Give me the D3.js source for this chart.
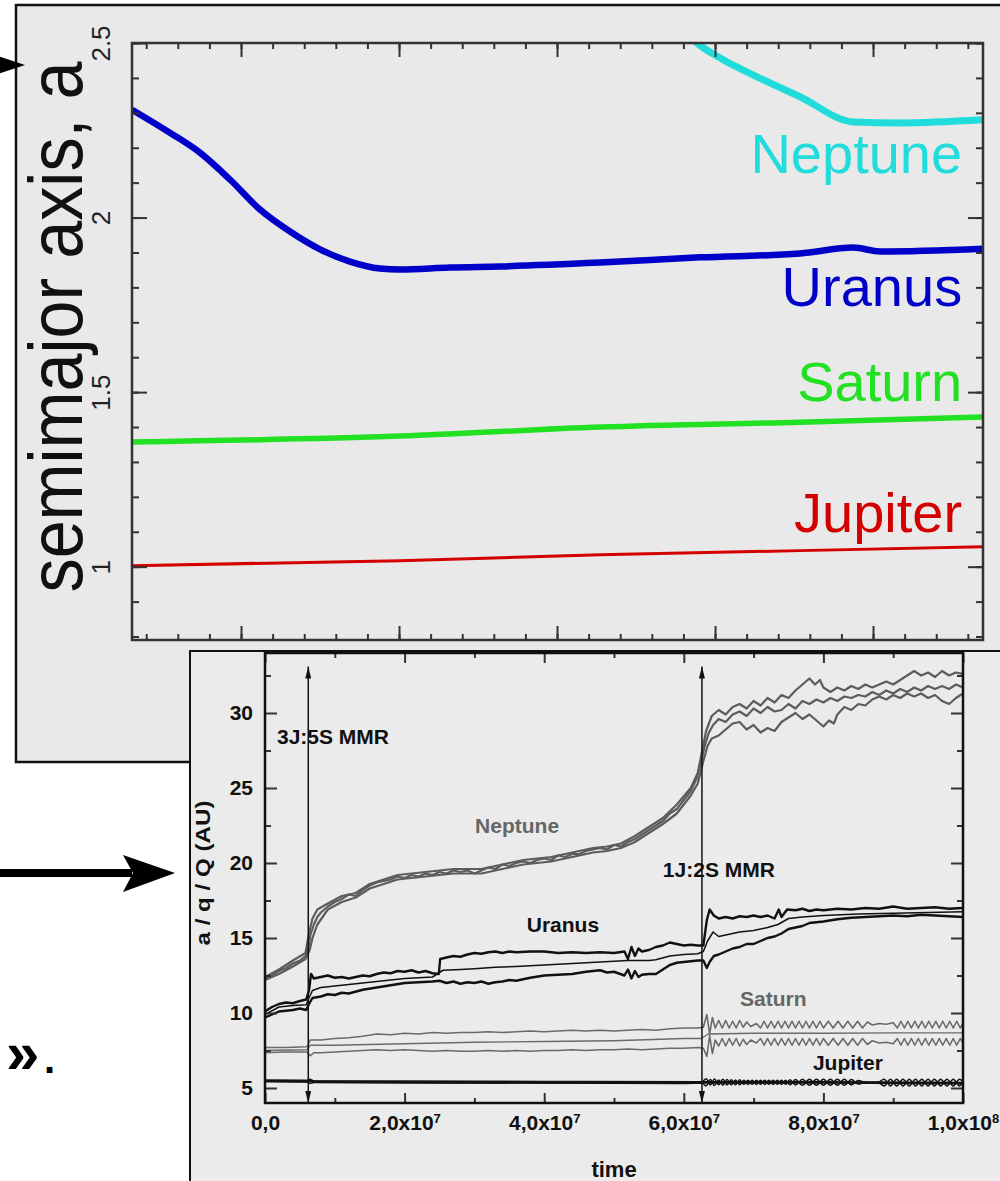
<!DOCTYPE html>
<html lang="en">
<head>
<meta charset="UTF-8">
<title>Semimajor axis evolution of the giant planets</title>
<script src="https://d3js.org/d3.v7.min.js"></script>
<style>
  body { margin: 0; background: #fff; }
  svg { display: block; }
  text { font-family: "Liberation Sans", Arial, Helvetica, sans-serif; }
</style>
</head>
<body>
<script>
// ---------------- top panel data (x: plot units, y: semimajor axis) ----------------
const topXDomain = [-3.45, 23.48];
const topYDomain = [0.79, 2.5];
const topXMinor = d3.range(-3, 24);
const topXMajor = [0, 5, 10, 15, 20];
const topYMinor = d3.range(8, 26).map(d => d / 10);
const topYMajor = [1, 1.5, 2, 2.5];
const topYLabels = ["1", "1.5", "2", "2.5"];

const topJupiter = [[-3.45,1.003],[5.03,1.017],[11.36,1.034],[17.69,1.046],[23.48,1.057]];
const topSaturn  = [[-3.45,1.357],[5.03,1.374],[11.36,1.400],[17.69,1.414],[23.48,1.429]];
const topUranus  = [[-3.45,2.309],[-2.25,2.243],[-1.3,2.186],[-0.35,2.109],[0.6,2.023],[1.55,1.960],
                    [2.5,1.909],[3.45,1.874],[4.4,1.854],[5.03,1.851],[6.61,1.857],[8.2,1.860],
                    [11.36,1.871],[14.53,1.886],[17.69,1.897],[19.37,1.914],[20.22,1.903],[23.48,1.911]];
const topNeptune = [[14.21,2.518],[14.43,2.500],[15.2,2.455],[16.2,2.409],[17.69,2.346],
                    [19.37,2.274],[20.85,2.271],[23.48,2.280]];

const topNames  = ["Jupiter", "Saturn", "Uranus", "Neptune"];
const topColors = ["#d40000", "#22e022", "#0000c8", "#22dcdc"];
const topLabelY = [1.10, 1.474, 1.746, 2.129];

// ---------------- bottom panel data (t in Myr, a / q / Q in AU) ----------------
const botYMajor = [5, 10, 15, 20, 25, 30];
const botYMinor = [7.5, 12.5, 17.5, 22.5, 27.5, 32.5];
const botXMajor = [0, 20, 40, 60, 80, 100];
const botXMinor = [10, 30, 50, 70, 90];
const botXMant  = ["0,0", "2,0x10", "4,0x10", "6,0x10", "8,0x10", "1,0x10"];
const botXExp   = ["", "7", "7", "7", "7", "8"];

const neptuneA = [[0,12.3],[1,12.5],[2,12.8],[3,13.0],[4,13.3],[5,13.5],[5.8,13.8],[6.2,14.3],[6.5,15.2],[7,15.9],
  [7.5,16.4],[8,16.7],[9,17.1],[10,17.4],[11,17.6],[12,17.9],[13,17.8],[14,18.2],[15,18.5],[16,18.7],[17,18.8],
  [18,18.9],[19,19.1],[20,19.0],[21,19.2],[22,19.1],[23,19.3],[24,19.2],[25,19.4],[26,19.3],[27,19.5],[28,19.4],
  [29,19.5],[30,19.3],[31,19.5],[32,19.7],[33,19.6],[34,19.9],[35,19.8],[36,20.0],[37,20.1],[38,20.0],[39,20.2],
  [40,20.3],[41,20.2],[42,20.5],[43,20.4],[44,20.6],[45,20.6],[46,20.8],[47,20.9],[48,21.0],[49,20.9],[50,21.2],
  [51,21.1],[52,21.4],[53,21.6],[54,21.9],[55,22.2],[56,22.5],[57,22.8],[58,23.3],[59,23.6],[60,24.2],[61,24.8],
  [61.8,25.6],[62.4,26.6],[63,27.8],[63.6,28.7],[64.2,29.2],[65,29.6],[66,29.4],[67,29.9],[68,30.1],[69,29.8],
  [70,30.3],[71,30.0],[72,30.4],[73,30.1],[74,30.2],[75,30.6],[76,30.3],[77,30.8],[78,30.6],[79,30.9],[80,30.7],
  [81,31.0],[82,30.8],[83,31.1],[84,31.0],[85,31.2],[86,31.1],[87,31.4],[88,31.2],[89,31.5],[90,31.3],[91,31.6],
  [92,31.4],[93,31.7],[94,31.5],[95,31.8],[96,31.6],[97,31.8],[98,31.6],[99,31.9],[100,31.7]];
const neptuneQ = [[0,12.4],[2,12.9],[4,13.5],[5.8,14.0],[6.3,15.3],[6.8,16.3],[7.5,16.9],[9,17.3],[11,17.8],
  [13,18.0],[15,18.6],[17,18.9],[19,19.2],[21,19.3],[23,19.4],[25,19.5],[27,19.6],[29,19.6],[31,19.6],[33,19.8],
  [35,20.0],[37,20.2],[39,20.3],[41,20.4],[43,20.6],[45,20.8],[47,21.0],[49,21.1],[51,21.3],[53,21.8],[55,22.4],
  [57,23.0],[59,23.9],[61,25.0],[62,26.0],[62.6,27.4],[63.2,28.8],[64,29.8],[65,30.2],[66,29.9],[67,30.4],
  [68,30.6],[69,30.3],[70,30.8],[71,30.5],[72,31.0],[73,30.7],[74,31.2],[75,31.0],[76,31.5],[77,31.9],[78,32.3],
  [78.8,31.9],[79.5,32.2],[80,31.7],[81,31.4],[82,31.7],[83,31.5],[84,31.8],[85,31.6],[86,31.9],[87,31.7],
  [88,31.9],[89,32.1],[90,31.9],[91,32.2],[92,32.5],[93,32.8],[94,32.5],[95,32.7],[96,32.4],[97,32.8],[98,32.5],
  [99,32.7],[100,32.6]];
const neptuneq = [[0,12.2],[2,12.6],[4,13.1],[5.8,13.6],[6.4,14.2],[6.8,15.0],[7.5,15.9],[9,16.9],[11,17.4],
  [13,17.7],[15,18.3],[17,18.6],[19,18.9],[21,19.0],[23,19.1],[25,19.2],[27,19.3],[29,19.3],[31,19.3],[33,19.5],
  [35,19.7],[37,19.9],[39,20.0],[41,20.1],[43,20.3],[45,20.5],[47,20.7],[49,20.8],[51,21.0],[53,21.4],[55,22.0],
  [57,22.6],[59,23.3],[61,24.5],[62,25.3],[62.8,26.8],[63.4,27.8],[64,28.3],[65,28.5],[66,28.9],[67,29.3],
  [68,29.4],[69,28.9],[70,29.2],[71,28.7],[72,29.0],[73,28.8],[74,29.4],[75,29.7],[76,30.0],[77,29.6],[78,29.9],
  [79,29.5],[80,29.1],[80.8,29.5],[81.5,29.3],[82,29.9],[83,30.4],[84,30.2],[85,30.6],[86,30.5],[87,30.9],
  [88,31.1],[89,30.9],[90,31.2],[91,31.0],[92,31.3],[93,31.1],[94,31.3],[95,31.0],[96,31.2],[97,30.8],[98,30.6],
  [99,31.0],[100,31.3]];

const uranusQ = [[0,10.1],[1,10.4],[2,10.6],[3,10.7],[4,10.65],[5,10.8],[5.9,10.9],[6.3,11.5],[6.6,12.6],[7,12.3],
  [8,12.4],[9,12.5],[10,12.35],[11,12.4],[12,12.3],[13,12.4],[14,12.5],[15,12.45],[16,12.6],[17,12.7],[18,12.65],
  [19,12.8],[20,12.75],[21,12.85],[22,12.7],[23,12.8],[24,12.65],[24.9,12.6],[25.1,13.6],[26,13.7],[27,13.8],
  [28,13.75],[29,13.9],[30,14.0],[31,13.95],[32,14.05],[33,14.1],[34,14.0],[35,14.1],[36,14.05],[38,14.1],
  [40,14.1],[42,14.0],[44,14.05],[46,14.0],[48,14.05],[50,14.0],[51.5,14.1],[52,13.6],[52.5,14.4],[53,13.8],
  [53.5,14.3],[54,14.1],[55,14.2],[56,14.4],[57,14.5],[58,14.7],[59,14.6],[60,14.5],[61,14.55],[62,14.5],
  [62.8,14.5],[63.3,16.2],[63.7,16.9],[64.3,16.5],[65,16.3],[66,16.4],[67,16.3],[68,16.45],[69,16.4],[70,16.5],
  [71,16.4],[72,16.5],[73,16.3],[73.6,16.9],[74,16.4],[74.8,16.9],[76,16.85],[77,16.95],[78,16.8],[79,16.9],
  [80,16.85],[82,16.95],[84,16.9],[86,17.0],[88,16.95],[90,17.1],[92,16.95],[94,17.0],[96,17.05],[98,16.95],
  [100,17.0]];
const uranusA = [[0,9.9],[2,10.4],[4,10.5],[5.9,10.55],[6.3,11.0],[6.8,11.5],[8,11.7],[10,11.8],[12,11.9],
  [14,12.0],[16,12.1],[18,12.2],[20,12.3],[22,12.35],[24,12.4],[25.5,12.85],[28,12.9],[30,12.95],[33,13.05],
  [36,13.1],[40,13.2],[44,13.3],[48,13.4],[52,13.5],[55,13.5],[56,13.55],[58,13.8],[60,13.9],[62,13.95],
  [62.8,14.1],[63.4,14.8],[64.2,15.4],[65,15.1],[66,15.2],[68,15.4],[70,15.5],[72,15.7],[73.5,15.9],[75,16.3],
  [77,16.4],[80,16.5],[85,16.6],[90,16.65],[95,16.7],[100,16.75]];
const uranusq = [[0,9.7],[1,9.9],[2,10.1],[3,10.15],[4,10.2],[5,10.3],[5.9,10.2],[6.3,10.6],[6.8,11.0],[8,11.1],
  [9,11.25],[10,11.2],[11,11.35],[12,11.3],[14,11.55],[16,11.7],[18,11.85],[20,12.0],[22,12.05],[24,12.1],
  [25,12.15],[26,12.0],[27,12.1],[28,11.95],[29,12.05],[30,12.0],[31,12.1],[32,11.95],[33,12.05],[34,12.1],
  [35,12.2],[36,12.15],[38,12.35],[40,12.5],[42,12.55],[44,12.6],[46,12.75],[48,12.85],[49,12.7],[50,12.75],
  [51.5,12.5],[52,12.9],[52.5,12.3],[53,12.8],[53.5,12.4],[54,12.55],[55,12.6],[56,12.6],[57,12.9],[58,13.2],
  [59,13.35],[60,13.4],[61,13.45],[62,13.5],[62.8,13.5],[63.3,13.0],[63.7,13.4],[64.3,13.8],[65,13.9],[66,14.1],
  [67,14.3],[68,14.4],[69,14.6],[70,14.6],[71,14.8],[72,15.0],[73,15.1],[74,15.3],[75,15.6],[76,15.7],[77,15.8],
  [78,16.0],[80,16.1],[82,16.25],[84,16.35],[86,16.4],[88,16.45],[90,16.5],[92,16.45],[94,16.55],[96,16.5],
  [98,16.45],[100,16.4]];

const saturnA = [[0,7.5],[6,7.55],[6.5,7.85],[10,7.85],[20,7.95],[30,8.05],[40,8.1],[50,8.15],[60,8.3],
  [62.5,8.3],[63.5,8.6],[70,8.65],[80,8.65],[90,8.67],[100,8.67]];
const saturnQ = [[0,7.7],[3,7.7],[6,7.75],[6.5,8.2],[8,8.2],[10,8.3],[12,8.35],[14,8.45],[16,8.6],[18,8.55],
  [20,8.65],[22,8.6],[24,8.7],[26,8.65],[28,8.7],[30,8.7],[32,8.75],[34,8.7],[36,8.75],[38,8.8],[40,8.75],
  [42,8.8],[44,8.85],[46,8.8],[48,8.85],[50,8.8],[52,8.85],[54,8.9],[56,8.85],[58,8.95],[60,9.0],[62,9.0],
  [62.8,9.05],[63.3,9.9],[63.7,8.6],[64.1,9.7],[64.5,9.0],[65,9.5],[65.5,9.0],[66,9.5],[66.5,9.0],[67,9.45],
  [67.5,9.0],[68,9.5],[68.5,9.05],[69,9.4],[69.6,9.1],[70.4,9.3],[71,9.0],[71.5,9.45],[72,9.0],[72.5,9.45],
  [73,9.0],[73.5,9.45],[74,9.0],[74.5,9.45],[75,9.0],[75.5,9.45],[76,9.0],[76.5,9.45],[77,9.0],[77.5,9.45],
  [78,9.0],[78.5,9.45],[79,9.0],[79.5,9.45],[80,9.0],[80.7,9.45],[81.4,9.0],[82.1,9.45],[82.8,9.0],[83.5,9.45],
  [84.2,9.0],[84.9,9.45],[85.6,9.0],[86.3,9.4],[87,9.2],[88,9.3],[89,9.25],[90,9.35],[90.6,9.0],[91.1,9.45],
  [91.6,9.0],[92.1,9.45],[92.6,9.0],[93.1,9.45],[93.6,9.0],[94.1,9.45],[94.6,9.0],[95.1,9.45],[95.6,9.0],
  [96.1,9.45],[96.6,9.0],[97.1,9.45],[97.6,9.0],[98.1,9.45],[98.6,9.0],[99.1,9.45],[99.6,9.0],[100,9.3]];
const saturnq = [[0,7.35],[3,7.4],[6,7.4],[6.5,7.15],[7,7.35],[8,7.35],[10,7.4],[12,7.45],[14,7.5],[16,7.55],
  [18,7.5],[20,7.55],[22,7.5],[24,7.45],[26,7.5],[28,7.45],[30,7.45],[32,7.5],[34,7.45],[36,7.5],[38,7.45],
  [40,7.5],[42,7.5],[44,7.55],[46,7.5],[48,7.55],[50,7.55],[52,7.6],[54,7.55],[56,7.6],[58,7.65],[60,7.65],
  [62,7.7],[62.8,7.65],[63.3,7.1],[63.7,8.5],[64.1,7.3],[64.5,8.2],[65,7.8],[65.5,8.3],[66,7.8],[66.5,8.3],
  [67,7.85],[67.5,8.3],[68,7.8],[68.5,8.25],[69,7.9],[69.6,8.2],[70.4,8.0],[71,8.3],[71.5,7.85],[72,8.3],
  [72.5,7.85],[73,8.3],[73.5,7.85],[74,8.3],[74.5,7.85],[75,8.3],[75.5,7.85],[76,8.3],[76.5,7.85],[77,8.3],
  [77.5,7.85],[78,8.3],[78.5,7.85],[79,8.3],[79.5,7.85],[80,8.3],[80.7,7.85],[81.4,8.3],[82.1,7.85],[82.8,8.3],
  [83.5,7.85],[84.2,8.3],[84.9,7.85],[85.6,8.3],[86.3,7.9],[87,8.15],[88,8.0],[89,8.05],[90,7.95],[90.6,8.3],
  [91.1,7.85],[91.6,8.3],[92.1,7.85],[92.6,8.3],[93.1,7.85],[93.6,8.3],[94.1,7.85],[94.6,8.3],[95.1,7.85],
  [95.6,8.3],[96.1,7.85],[96.6,8.3],[97.1,7.85],[97.6,8.3],[98.1,7.85],[98.6,8.3],[99.1,7.85],[99.6,8.3],[100,8.0]];

const jupiterA = [[0,5.48],[6,5.45],[6.4,5.5],[7,5.42],[20,5.4],[40,5.38],[60,5.35],[63,5.38],[80,5.38],[100,5.33]];
const jupiterQ = [[0,5.52],[6,5.5],[6.4,5.58],[7,5.46],[30,5.44],[62.6,5.42],[63.2,5.62],[63.8,5.2],[64.4,5.6],
  [65,5.22],[65.6,5.58],[66.2,5.2],[66.8,5.55],[67.4,5.22],[68,5.55],[68.6,5.25],[69.2,5.52],[69.8,5.25],
  [70.4,5.52],[71,5.25],[71.6,5.52],[72.2,5.25],[72.8,5.52],[73.4,5.25],[74,5.52],[74.6,5.25],[75.2,5.55],
  [76,5.2],[77,5.58],[78,5.18],[79,5.58],[80,5.18],[81,5.58],[82,5.18],[83,5.58],[84,5.2],[85,5.5],[86,5.38],
  [87,5.36],[87.8,5.38],[88.7,5.58],[89.6,5.14],[90.5,5.58],[91.4,5.14],[92.3,5.58],[93.2,5.14],[94.1,5.58],
  [95,5.14],[95.9,5.58],[96.8,5.14],[97.7,5.58],[98.6,5.14],[99.5,5.58],[100,5.4]];
const jupiterq = [[0,5.44],[6,5.42],[6.4,5.32],[7,5.36],[30,5.33],[62.6,5.32],[63.2,5.14],[63.8,5.56],[64.4,5.16],
  [65,5.54],[65.6,5.18],[66.2,5.56],[66.8,5.21],[67.4,5.54],[68,5.21],[68.6,5.51],[69.2,5.24],[69.8,5.51],
  [70.4,5.24],[71,5.51],[71.6,5.24],[72.2,5.51],[72.8,5.24],[73.4,5.51],[74,5.24],[74.6,5.51],[75.2,5.21],
  [76,5.56],[77,5.18],[78,5.58],[79,5.18],[80,5.58],[81,5.18],[82,5.58],[83,5.18],[84,5.56],[85,5.26],[86,5.38],
  [87,5.36],[87.8,5.38],[88.7,5.14],[89.6,5.58],[90.5,5.14],[91.4,5.58],[92.3,5.14],[93.2,5.58],[94.1,5.14],
  [95,5.58],[95.9,5.14],[96.8,5.58],[97.7,5.14],[98.6,5.58],[99.5,5.14],[100,5.36]];

// resonance crossings (t in Myr) and annotation anchors [t, AU]
const mmrTimes  = [6.2, 62.6];
const mmrTop    = 33.1;
const annTexts  = ["3J:5S MMR", "1J:2S MMR", "Neptune", "Uranus", "Saturn", "Jupiter"];
const annPos    = [[1.72,27.93],[57.0,19.07],[30.1,22.0],[37.5,15.4],[68.05,10.47],[78.5,6.2]];
const annColors = ["#111", "#111", "#666", "#111", "#666", "#111"];

// ================= drawing =================
const W = 1000, H = 1181;
const svg = d3.select("body").append("svg").attr("width", W).attr("height", H);
svg.append("rect").attr("width", W).attr("height", H).attr("fill", "#fff");
const defs = svg.append("defs");

// ---------- top panel ----------
svg.append("rect").attr("x", 16).attr("y", 5).attr("width", 1000).attr("height", 757)
  .attr("fill", "#e9e9e9").attr("stroke", "#111").attr("stroke-width", 2.5);

const tx = d3.scaleLinear().domain(topXDomain).range([132, 983]);
const ty = d3.scaleLinear().domain(topYDomain).range([640, 43]);

defs.append("clipPath").attr("id", "clipTop").append("rect")
  .attr("x", 132).attr("y", 43).attr("width", 983 - 132).attr("height", 640 - 43);

const topLine = d3.line().x(d => tx(d[0])).y(d => ty(d[1])).curve(d3.curveMonotoneX);
const topSeries = [topJupiter, topSaturn, topUranus, topNeptune];
const topWidths = [3, 5.5, 6.5, 7];
svg.append("g").attr("clip-path", "url(#clipTop)")
  .selectAll("path").data(topSeries).join("path")
    .attr("d", topLine)
    .attr("fill", "none")
    .attr("stroke", (d, i) => topColors[i])
    .attr("stroke-width", (d, i) => topWidths[i])
    .attr("stroke-linejoin", "round");

function styleAxis(g) {
  g.select(".domain").remove();
  g.selectAll("line").attr("stroke", "#333").attr("stroke-width", 2);
}

// minor + major ticks, all pointing inwards
[[topXMinor, 6], [topXMajor, 14]].forEach(([vals, len]) => {
  svg.append("g").attr("transform", "translate(0,43)")
    .call(d3.axisTop(tx).tickValues(vals).tickSize(-len).tickFormat("")).call(styleAxis);
  svg.append("g").attr("transform", "translate(0,640)")
    .call(d3.axisBottom(tx).tickValues(vals).tickSize(-len).tickFormat("")).call(styleAxis);
});
[[topYMinor, 7], [topYMajor, 15]].forEach(([vals, len]) => {
  svg.append("g").attr("transform", "translate(983,0)")
    .call(d3.axisRight(ty).tickValues(vals).tickSize(-len).tickFormat("")).call(styleAxis);
});
svg.append("g").attr("transform", "translate(132,0)")
  .call(d3.axisLeft(ty).tickValues(topYMinor).tickSize(-7).tickFormat("")).call(styleAxis);
const topLeft = svg.append("g").attr("transform", "translate(132,0)")
  .call(d3.axisLeft(ty).tickValues(topYMajor).tickSize(-15).tickFormat((d, i) => topYLabels[i]))
  .call(styleAxis);
topLeft.selectAll("text")
  .attr("transform", "rotate(-90)")
  .attr("x", 0).attr("y", -22).attr("dy", 0)
  .attr("text-anchor", "middle")
  .attr("font-size", 26).attr("fill", "#222");

svg.append("rect").attr("x", 132).attr("y", 43).attr("width", 983 - 132).attr("height", 640 - 43)
  .attr("fill", "none").attr("stroke", "#333").attr("stroke-width", 2.5);

svg.append("g").selectAll("text").data(topNames).join("text")
  .attr("x", tx(22.82))
  .attr("y", (d, i) => ty(topLabelY[i]))
  .attr("text-anchor", "end")
  .attr("font-size", 56)
  .attr("fill", (d, i) => topColors[i])
  .text(d => d);

svg.append("text")
  .attr("transform", "translate(82,327) rotate(-90)")
  .attr("text-anchor", "middle")
  .attr("font-size", 76)
  .attr("textLength", 531).attr("lengthAdjust", "spacingAndGlyphs")
  .attr("fill", "#111")
  .text("semimajor axis, a");

// ---------- pointers outside the panels ----------
svg.append("path").attr("d", "M-2,56 L25,65 L-2,74 Z").attr("fill", "#000");
svg.append("line").attr("x1", 0).attr("x2", 132).attr("y1", 873).attr("y2", 873)
  .attr("stroke", "#000").attr("stroke-width", 8);
svg.append("path").attr("d", "M123,855 L175,873 L123,892 L133,873 Z").attr("fill", "#000");
svg.append("text").attr("x", 6).attr("y", 1073)
  .attr("font-family", "DejaVu Sans").attr("font-weight", "bold").attr("font-size", 60)
  .text("»");
svg.append("text").attr("x", 44).attr("y", 1073)
  .attr("font-family", "DejaVu Sans").attr("font-weight", "bold").attr("font-size", 40)
  .text(".");

// ---------- bottom panel ----------
svg.append("rect").attr("x", 190).attr("y", 651).attr("width", 830).attr("height", 560)
  .attr("fill", "#ebebeb").attr("stroke", "#111").attr("stroke-width", 2);

const bx = d3.scaleLinear().domain([0, 100]).range([265, 963]);
const by = d3.scaleLinear().domain([4, 34]).range([1103, 653]);

defs.append("clipPath").attr("id", "clipBot").append("rect")
  .attr("x", 265).attr("y", 653).attr("width", 963 - 265).attr("height", 1103 - 653);

const linLine = d3.line().x(d => bx(d[0])).y(d => by(d[1]));
const smoothLine = d3.line().x(d => bx(d[0])).y(d => by(d[1])).curve(d3.curveMonotoneX);

const botSeries = [
  { data: neptuneQ, color: "#5c5c5c", width: 2.2, line: linLine },
  { data: neptuneq, color: "#5c5c5c", width: 2.2, line: linLine },
  { data: neptuneA, color: "#5c5c5c", width: 2.2, line: linLine },
  { data: saturnQ,  color: "#6a6a6a", width: 1.6, line: linLine },
  { data: saturnq,  color: "#6a6a6a", width: 1.6, line: linLine },
  { data: saturnA,  color: "#6a6a6a", width: 1.3, line: linLine },
  { data: uranusQ,  color: "#111",    width: 2.4, line: linLine },
  { data: uranusq,  color: "#111",    width: 2.4, line: linLine },
  { data: uranusA,  color: "#111",    width: 1.5, line: linLine },
  { data: jupiterQ, color: "#111",    width: 1.5, line: smoothLine },
  { data: jupiterq, color: "#111",    width: 1.5, line: smoothLine },
  { data: jupiterA, color: "#111",    width: 2.8, line: linLine }
];
svg.append("g").attr("clip-path", "url(#clipBot)")
  .selectAll("path").data(botSeries).join("path")
    .attr("d", d => d.line(d.data))
    .attr("fill", "none")
    .attr("stroke", d => d.color)
    .attr("stroke-width", d => d.width)
    .attr("stroke-linejoin", "round");

// inward ticks
[[botXMinor, 5], [botXMajor, 10]].forEach(([vals, len]) => {
  svg.append("g").attr("transform", "translate(0,653)")
    .call(d3.axisTop(bx).tickValues(vals).tickSize(-len).tickFormat("")).call(styleAxis);
});
svg.append("g").attr("transform", "translate(0,1103)")
  .call(d3.axisBottom(bx).tickValues(botXMinor).tickSize(-5).tickFormat("")).call(styleAxis);
const botBottom = svg.append("g").attr("transform", "translate(0,1103)")
  .call(d3.axisBottom(bx).tickValues(botXMajor).tickSize(-10).tickPadding(12)
    .tickFormat((d, i) => botXMant[i]))
  .call(styleAxis);
botBottom.selectAll("text")
  .attr("font-size", 21).attr("font-weight", "bold").attr("fill", "#111")
  .each(function(d, i) {
    if (botXExp[i]) d3.select(this).append("tspan").attr("dy", "-0.55em").attr("font-size", 13).text(botXExp[i]);
  });

[[botYMinor, 6], [botYMajor, 12]].forEach(([vals, len]) => {
  svg.append("g").attr("transform", "translate(963,0)")
    .call(d3.axisRight(by).tickValues(vals).tickSize(-len).tickFormat("")).call(styleAxis);
});
svg.append("g").attr("transform", "translate(265,0)")
  .call(d3.axisLeft(by).tickValues(botYMinor).tickSize(-6).tickFormat("")).call(styleAxis);
svg.append("g").attr("transform", "translate(265,0)")
  .call(d3.axisLeft(by).tickValues(botYMajor).tickSize(-12).tickPadding(12))
  .call(styleAxis)
  .selectAll("text").attr("font-size", 21).attr("font-weight", "bold").attr("fill", "#111");

svg.append("rect").attr("x", 265).attr("y", 653).attr("width", 963 - 265).attr("height", 1103 - 653)
  .attr("fill", "none").attr("stroke", "#111").attr("stroke-width", 2.5);

// resonance arrows
defs.append("marker").attr("id", "head")
  .attr("viewBox", "0 0 12 6").attr("refX", 12).attr("refY", 3)
  .attr("markerWidth", 12).attr("markerHeight", 6).attr("markerUnits", "userSpaceOnUse")
  .attr("orient", "auto-start-reverse")
  .append("path").attr("d", "M0,0 L12,3 L0,6 Z").attr("fill", "#111");
svg.append("g").selectAll("line").data(mmrTimes).join("line")
  .attr("x1", d => bx(d)).attr("x2", d => bx(d))
  .attr("y1", by(4)).attr("y2", by(mmrTop))
  .attr("stroke", "#111").attr("stroke-width", 1.5)
  .attr("marker-start", "url(#head)").attr("marker-end", "url(#head)");

svg.append("g").selectAll("text").data(annTexts).join("text")
  .attr("x", (d, i) => bx(annPos[i][0]))
  .attr("y", (d, i) => by(annPos[i][1]))
  .attr("font-size", 21).attr("font-weight", "bold")
  .attr("fill", (d, i) => annColors[i])
  .text(d => d);

svg.append("text").attr("x", bx(50)).attr("y", 1177)
  .attr("text-anchor", "middle").attr("font-size", 22).attr("font-weight", "bold").attr("fill", "#111")
  .text("time");
svg.append("text").attr("transform", "translate(210,873) rotate(-90)")
  .attr("text-anchor", "middle").attr("font-size", 21).attr("font-weight", "bold").attr("fill", "#111")
  .attr("textLength", 145).attr("lengthAdjust", "spacingAndGlyphs")
  .text("a / q / Q (AU)");
</script>
</body>
</html>
